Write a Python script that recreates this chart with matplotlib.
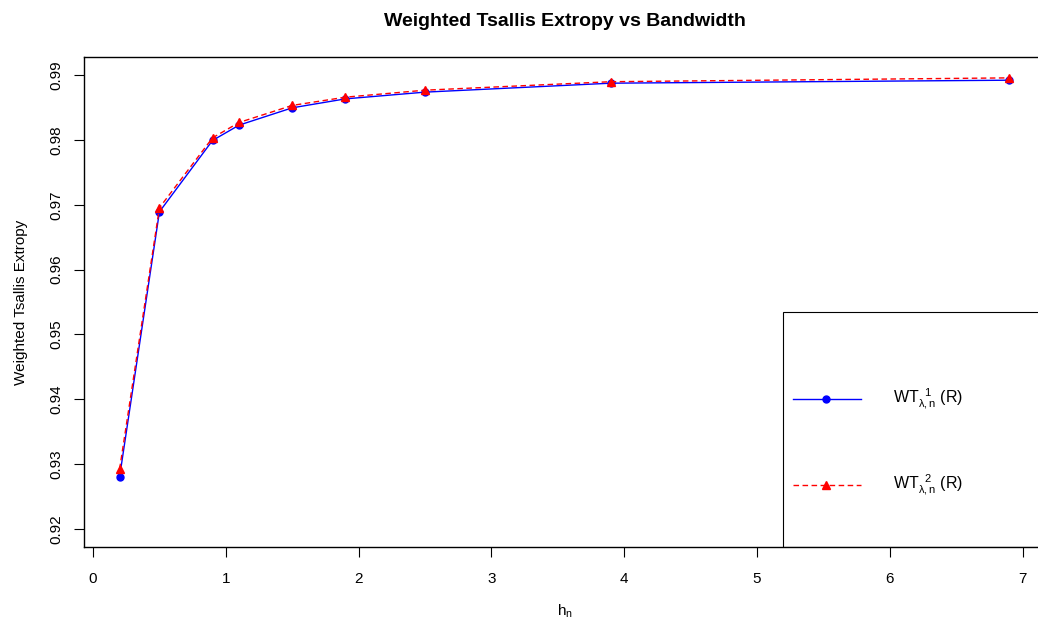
import numpy as np
import matplotlib.pyplot as plt
from matplotlib.patches import Rectangle
from matplotlib.lines import Line2D

plt.rcParams['font.family'] = ['Liberation Sans', 'DejaVu Sans']
plt.rcParams['mathtext.fontset'] = 'custom'
plt.rcParams['mathtext.rm'] = 'Liberation Sans'
plt.rcParams['mathtext.it'] = 'Liberation Sans:italic'

# bandwidth values and the two estimators
h_n = [0.2, 0.5, 0.9, 1.1, 1.5, 1.9, 2.5, 3.9, 6.9]
wt1 = [0.92802, 0.96892, 0.97993, 0.98229, 0.98496, 0.98634, 0.98738, 0.98876, 0.98922]
wt2 = [0.92920, 0.96954, 0.98033, 0.98270, 0.98533, 0.98660, 0.98768, 0.98899, 0.98958]

label1 = r'$\mathrm{WT}_{\mathrm{\lambda,n}}^{\ \ 1}$ (R)'
label2 = r'$\mathrm{WT}_{\mathrm{\lambda,n}}^{\ \ 2}$ (R)'

fig = plt.figure(figsize=(10.38, 6.23), dpi=100)
ax = fig.add_axes([84/1038, 76/623, 961/1038, 490/623])

ax.plot(h_n, wt1, color='blue', lw=1.0, marker='o', ms=5)
ax.plot(h_n, wt2, color='red', lw=1.0, ls=(0, (4, 2.5)), marker='^', ms=6)

# R-style axis limits (4% padding)
ax.set_xlim(0.2 - 0.04*6.7, 6.9 + 0.04*6.7)
ax.set_ylim(0.92 - 0.04*0.07, 0.99 + 0.04*0.07)
ax.set_xticks(np.arange(0, 8, 1))
ax.set_yticks(np.arange(0.92, 0.9901, 0.01))
ax.set_yticklabels(['%.2f' % v for v in np.arange(0.92, 0.9901, 0.01)],
                   rotation=90, va='center')
ax.tick_params(axis='x', length=7, pad=11, labelsize=11, width=0.8)
ax.tick_params(axis='y', length=7, pad=8, labelsize=11, width=0.8)
for s in ax.spines.values():
    s.set_linewidth(1.0)

ax.set_title('Weighted Tsallis Extropy vs Bandwidth', fontsize=14,
             fontweight='bold', pad=22)
ax.set_xlabel(r'$\mathrm{h}_{\mathrm{n}}$', fontsize=11, labelpad=12)
ax.set_ylabel('Weighted Tsallis Extropy', fontsize=11, labelpad=15)

# legend box, drawn like R's (clipped by the plot region)
lx, ly = 0.7274, 0.4796
ax.add_patch(Rectangle((lx, 0), 0.4, ly, transform=ax.transAxes,
                       fill=False, lw=0.8, color='black'))
for yy, col, ls, mk, lab in [(0.302, 'blue', '-', 'o', label1),
                             (0.1265, 'red', (0, (4, 2.5)), '^', label2)]:
    ax.add_line(Line2D([0.7378, 0.8085], [yy, yy], transform=ax.transAxes,
                       color=col, lw=1.0, ls=ls))
    ax.add_line(Line2D([0.7721], [yy], transform=ax.transAxes, color=col,
                       marker=mk, ms=5 if mk == 'o' else 6))
    ax.text(0.8418, yy, lab, transform=ax.transAxes, va='center',
            ha='left', fontsize=11.5)

fig.savefig('out.png', dpi=100)
